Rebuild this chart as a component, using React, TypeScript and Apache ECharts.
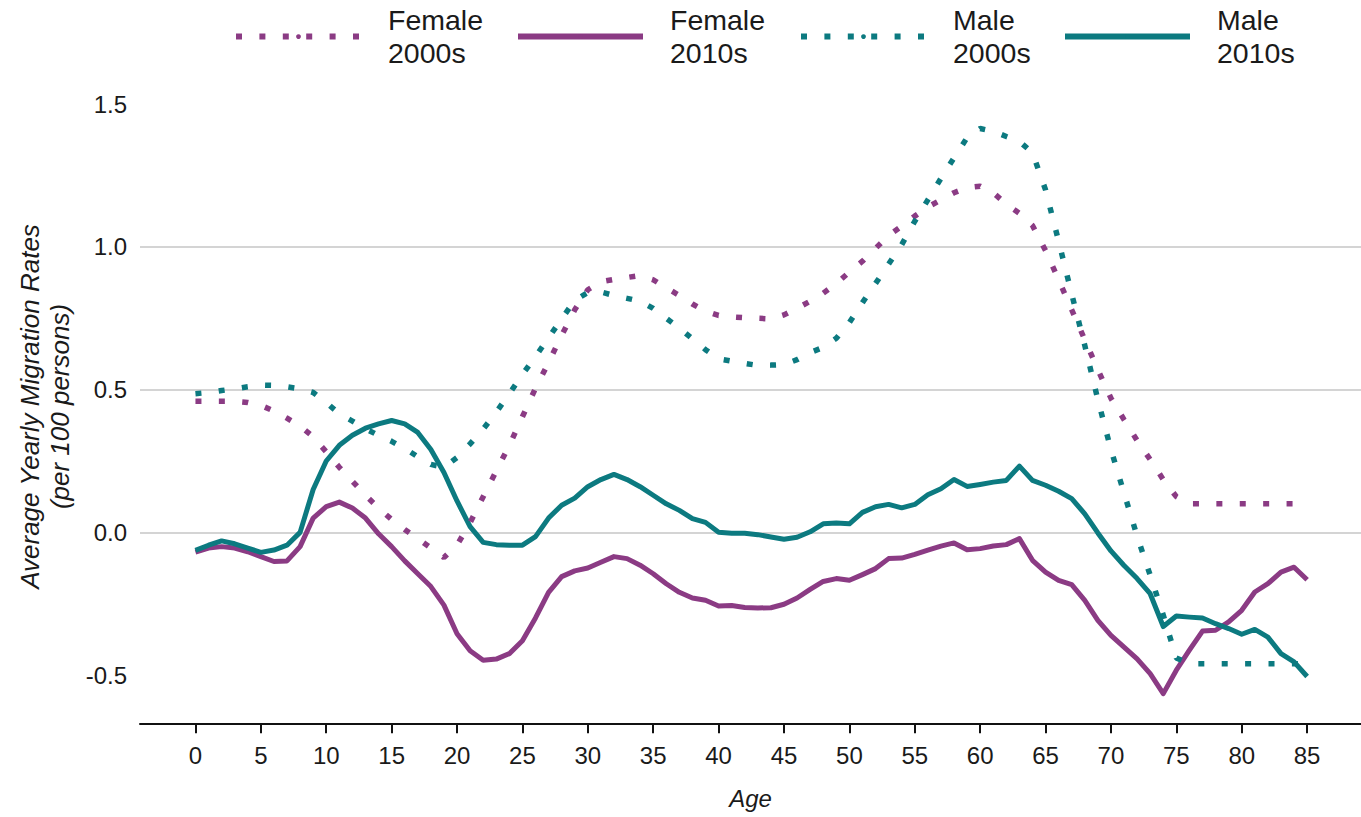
import React, { useEffect, useRef } from "react";
import * as echarts from "echarts";

const ages: number[] = Array.from({ length: 86 }, (_, i) => i);

const female2000s: number[] = [
  0.459, 0.459, 0.459, 0.459, 0.455, 0.445, 0.425, 0.4, 0.372, 0.335,
  0.282, 0.228, 0.179, 0.13, 0.085, 0.045, 0.01, -0.022, -0.055, -0.088,
  -0.045, 0.034, 0.125, 0.215, 0.305, 0.405, 0.505, 0.595, 0.69, 0.78,
  0.85, 0.878, 0.886, 0.893, 0.9, 0.885, 0.857, 0.83, 0.8, 0.775,
  0.76, 0.755, 0.752, 0.75, 0.748, 0.762, 0.785, 0.81, 0.838, 0.872,
  0.912, 0.95, 0.995, 1.04, 1.073, 1.108, 1.14, 1.165, 1.19, 1.208,
  1.213, 1.19, 1.15, 1.118, 1.075, 0.987, 0.885, 0.78, 0.675, 0.57,
  0.47, 0.395, 0.322, 0.255, 0.185, 0.125, 0.1, 0.1, 0.1, 0.1,
  0.1, 0.1, 0.1, 0.1, 0.1, 0.1,
];

const female2010s: number[] = [
  -0.069, -0.055, -0.05, -0.055, -0.068, -0.085, -0.102, -0.1, -0.05, 0.05,
  0.09, 0.106, 0.085, 0.05, -0.005, -0.05, -0.1, -0.145, -0.19, -0.255,
  -0.355, -0.415, -0.448, -0.444, -0.425, -0.38, -0.3, -0.21, -0.155, -0.135,
  -0.125, -0.105, -0.085, -0.092, -0.115, -0.145, -0.18, -0.21, -0.23, -0.238,
  -0.258, -0.256, -0.263, -0.265, -0.264, -0.252, -0.23, -0.2, -0.172, -0.162,
  -0.168, -0.148, -0.127, -0.092, -0.09, -0.077, -0.062, -0.048, -0.037, -0.061,
  -0.057, -0.048, -0.043, -0.022, -0.098, -0.139, -0.168, -0.183, -0.238, -0.308,
  -0.361, -0.402, -0.443, -0.495, -0.565, -0.483, -0.413, -0.346, -0.343, -0.314,
  -0.273, -0.209, -0.18, -0.139, -0.122, -0.166,
];

const male2000s: number[] = [
  0.486, 0.49, 0.497, 0.503, 0.51, 0.516, 0.515, 0.51, 0.503, 0.49,
  0.455, 0.415, 0.39, 0.363, 0.34, 0.319, 0.294, 0.265, 0.238, 0.228,
  0.262, 0.31, 0.362, 0.421, 0.486, 0.553, 0.616, 0.682, 0.748, 0.813,
  0.84, 0.842, 0.83, 0.82, 0.81, 0.785, 0.75, 0.716, 0.678, 0.64,
  0.608, 0.6, 0.592, 0.585, 0.586, 0.588, 0.605, 0.63, 0.648, 0.68,
  0.735, 0.805, 0.872, 0.94, 1.008, 1.09, 1.165, 1.24, 1.312, 1.383,
  1.415, 1.405, 1.387, 1.37, 1.33, 1.2, 1.02, 0.835, 0.655, 0.465,
  0.29, 0.138, -0.013, -0.15, -0.29, -0.44, -0.46, -0.46, -0.46, -0.46,
  -0.46, -0.46, -0.46, -0.46, -0.46, -0.46,
];

const male2010s: number[] = [
  -0.063, -0.045, -0.03, -0.04, -0.055, -0.07, -0.062, -0.045, 0.0, 0.15,
  0.25, 0.305, 0.34, 0.365, 0.38, 0.392, 0.38, 0.35, 0.29, 0.21,
  0.11, 0.02, -0.035, -0.043, -0.045, -0.045, -0.015, 0.05, 0.095, 0.12,
  0.16, 0.185, 0.203, 0.185, 0.16, 0.13, 0.1, 0.077, 0.048, 0.035,
  0.0, -0.003, -0.003, -0.008, -0.016, -0.024, -0.017, 0.002, 0.03, 0.033,
  0.03, 0.07, 0.09, 0.098, 0.086, 0.098, 0.132, 0.153, 0.185, 0.161,
  0.168, 0.176, 0.182, 0.232, 0.182, 0.165, 0.144, 0.118, 0.065, -0.002,
  -0.065, -0.116, -0.162, -0.215, -0.33, -0.293, -0.297, -0.3, -0.32, -0.337,
  -0.357, -0.34, -0.367, -0.425, -0.454, -0.505,
];

const xTicks: number[] = [0, 5, 10, 15, 20, 25, 30, 35, 40, 45, 50, 55, 60, 65, 70, 75, 80, 85];
const yTicks: number[] = [-0.5, 0, 0.5, 1.0, 1.5];

const seriesNames: string[] = ["Female\n2000s", "Female\n2010s", "Male\n2000s", "Male\n2010s"];

const PURPLE = "#8b3b84";
const TEAL = "#0c7a80";
const FONT = "'Liberation Sans', Arial, Helvetica, sans-serif";
const TEXT = "#1a1a1a";
const DOT: number[] = [6, 17.4];

export default function App() {
  const ref = useRef<HTMLDivElement>(null);

  useEffect(() => {
    document.body.style.margin = "0";
    if (!ref.current) return;
    const chart = echarts.init(ref.current, null, { renderer: "svg" });

    const pairs = (vals: number[]) => ages.map((a, i) => [a, vals[i]]);

    const mkLine = (name: string, vals: number[], color: string, dotted: boolean) => ({
      name,
      type: "line",
      data: pairs(vals),
      symbol: "none",
      smooth: false,
      lineStyle: dotted
        ? { color, width: 5.5, type: DOT, cap: "butt" }
        : { color, width: 5, type: "solid", join: "round", cap: "butt" },
      itemStyle: { color },
      z: dotted ? 3 : 2,
    });

    const legendLefts = [233, 515, 798, 1062];
    const legends = seriesNames.map((n, i) => ({
      data: [n],
      left: legendLefts[i],
      top: 4,
      padding: 0,
      orient: "horizontal",
      itemWidth: 125,
      itemHeight: 6,
      selectedMode: false,
      lineStyle: { width: 6 },
      textStyle: {
        fontFamily: FONT,
        fontSize: 28.5,
        lineHeight: 32.6,
        color: TEXT,
        padding: [0, 0, 0, 22],
      },
    }));

    chart.setOption({
      animation: false,
      backgroundColor: "#ffffff",
      legend: legends,
      grid: {
        left: 140,
        right: 0,
        top: 75.7,
        bottom: 93.7,
        containLabel: false,
      },
      xAxis: {
        type: "value",
        min: -4.24,
        max: 89.12,
        minInterval: 5,
        maxInterval: 5,
        name: "Age",
        nameLocation: "middle",
        nameGap: 63,
        nameTextStyle: { fontFamily: FONT, fontSize: 24, fontStyle: "italic", color: TEXT },
        axisLine: { show: true, onZero: false, lineStyle: { color: "#111111", width: 2 } },
        axisTick: {
          show: true,
          length: 10,
          lineStyle: { color: "#111111", width: 2 },
          customValues: xTicks,
        },
        axisLabel: {
          fontFamily: FONT,
          fontSize: 24,
          color: TEXT,
          margin: 20,
          customValues: xTicks,
          formatter: (v: number) => String(v),
        },
        splitLine: { show: false },
      },
      yAxis: {
        type: "value",
        min: -0.669,
        max: 1.6,
        minInterval: 0.5,
        maxInterval: 0.5,
        name: "Average Yearly Migration Rates\n(per 100 persons)",
        nameLocation: "middle",
        nameRotate: 90,
        nameGap: 65,
        nameTextStyle: {
          fontFamily: FONT,
          fontSize: 26,
          fontStyle: "italic",
          color: TEXT,
          lineHeight: 30,
          padding: [0, 14, 0, 0],
        },
        axisLine: { show: false },
        axisTick: { show: false, customValues: yTicks },
        axisLabel: {
          fontFamily: FONT,
          fontSize: 24,
          color: TEXT,
          margin: 13,
          customValues: yTicks,
          formatter: (v: number) => v.toFixed(1),
        },
        splitLine: {
          show: true,
          showMinLine: false,
          showMaxLine: false,
          lineStyle: { color: "#d4d4d4", width: 2 },
        },
      },
      series: [
        mkLine(seriesNames[0], female2000s, PURPLE, true),
        mkLine(seriesNames[1], female2010s, PURPLE, false),
        mkLine(seriesNames[2], male2000s, TEAL, true),
        mkLine(seriesNames[3], male2010s, TEAL, false),
      ],
    });

    return () => chart.dispose();
  }, []);

  return <div ref={ref} style={{ width: 1361, height: 817 }} />;
}
